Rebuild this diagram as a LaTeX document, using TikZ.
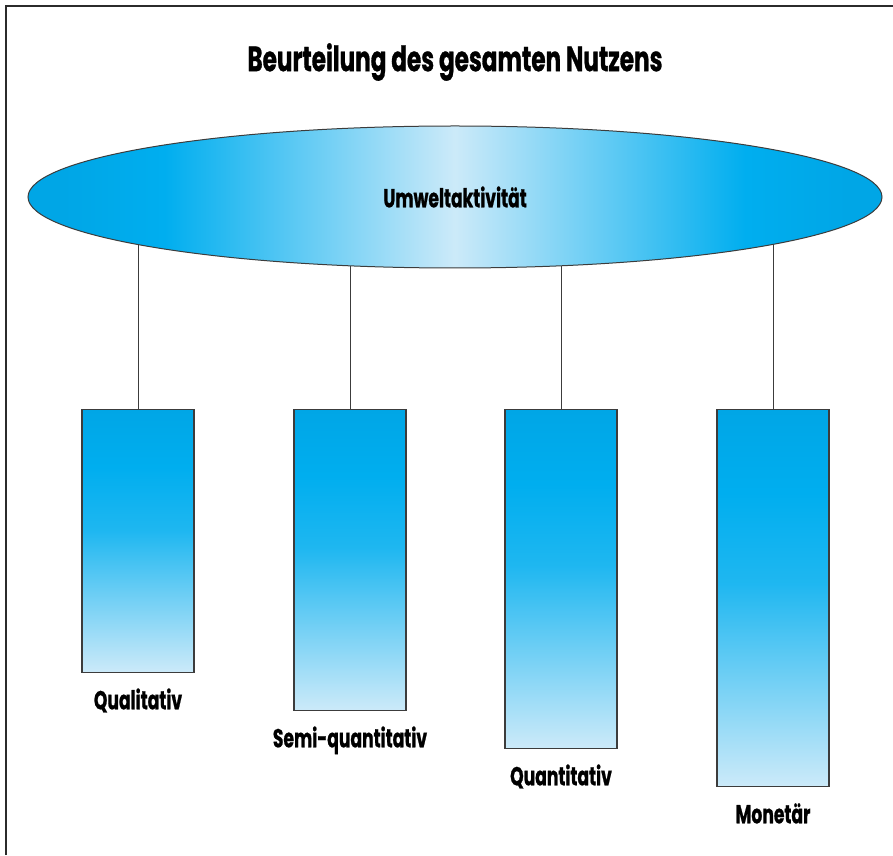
\documentclass[tikz,border=0pt]{standalone}
\usepackage{fontspec}
\setmainfont{Poppins}[FakeStretch=0.66,BoldFeatures={FakeBold=0.8}]
\usepackage{tikz}
\usetikzlibrary{positioning,backgrounds,shapes.geometric,calc}
\definecolor{cyanx}{HTML}{00AEEF}
\definecolor{cyandk}{HTML}{00A6E6}
\definecolor{skylt}{HTML}{CCEAF9}
\definecolor{framegr}{HTML}{2B2B2B}
\definecolor{edgegr}{HTML}{3C3C3C}
% top of the bar stays saturated, then fades out towards the bottom
\pgfdeclareverticalshading{barfade}{100bp}{color(0bp)=(skylt); color(25bp)=(skylt);
  color(52bp)=(cyanx!85!skylt); color(64bp)=(cyanx); color(75bp)=(cyandk); color(100bp)=(cyandk)}
% saturated at both ends, pale in the middle
\pgfdeclarehorizontalshading{ellfade}{100bp}{color(0bp)=(cyandk); color(27bp)=(cyandk);
  color(33bp)=(cyanx); color(50bp)=(skylt); color(67bp)=(cyanx); color(73bp)=(cyandk); color(100bp)=(cyandk)}
\tikzset{
  bar/.style={draw=edgegr,line width=1.3pt,shading=barfade,minimum width=112pt,
    inner sep=0pt,anchor=north},
  barlabel/.style={font=\bfseries\fontsize{26}{30}\selectfont,anchor=base,inner sep=0pt},
  link/.style={draw=edgegr,line width=1pt}
}

\begin{document}
\begin{tikzpicture}[x=1pt,y=1pt]
\useasboundingbox (0,0) rectangle (893,855);
\draw[framegr,line width=1.6pt] (6,0) -- (6,849) -- (893,849);
\node[font=\bfseries\fontsize{35}{40}\selectfont] (title) at (455,793) {Beurteilung des gesamten Nutzens};
\node[ellipse,draw=edgegr,line width=1pt,minimum width=854pt,minimum height=142pt,inner sep=0pt,
  shading=ellfade,font=\bfseries\fontsize{26}{30}\selectfont] (act) at (455,658) {Umweltaktivität};
% the four kinds of assessment, each bar a bit longer than the last
\foreach \n/\x/\h/\lab in {1/138/263/Qualitativ,2/350/301/Semi-quantitativ,3/561/339/Quantitativ,4/773/377/Monetär}{
  \node[bar,minimum height=\h pt] (b\n) at (\x,446) {};
  \node[barlabel] (l\n) at ($(b\n.south)+(0,-36)$) {\lab};
  \begin{scope}[on background layer]
    \draw[link] (b\n.north) -- (b\n.north |- act.center);
  \end{scope}
}
\end{tikzpicture}
\end{document}
